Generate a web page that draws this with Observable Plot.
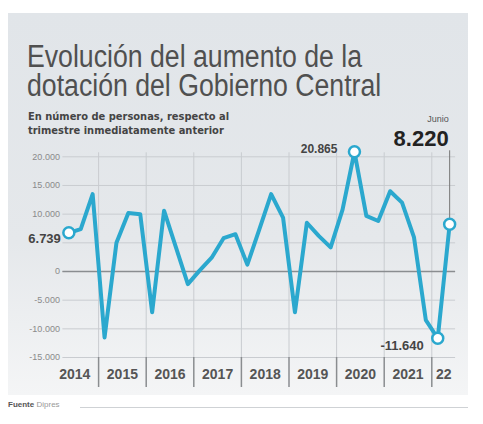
<!DOCTYPE html>
<html><head><meta charset="utf-8">
<script src="https://cdn.jsdelivr.net/npm/d3@7"></script>
<script src="https://cdn.jsdelivr.net/npm/@observablehq/plot@0.6"></script>
<style>
html,body{margin:0;padding:0;background:#fff;}
#root{position:relative;width:483px;height:424px;overflow:hidden;font-family:"Liberation Sans",Arial,sans-serif;}
#card{position:absolute;left:8px;top:13px;width:460px;height:382px;background:linear-gradient(#e1e5e9 0%,#e5e8eb 60%,#f4f5f6 100%);}
#title{position:absolute;left:27px;top:42px;font-family:"Liberation Sans",Arial,sans-serif;font-size:31px;line-height:29px;color:#505050;white-space:nowrap;transform:scaleX(0.86);transform-origin:0 0;}
#subtitle{position:absolute;left:28px;top:110px;font-family:"DejaVu Sans Condensed","Liberation Sans",sans-serif;font-weight:bold;font-size:11px;line-height:14px;color:#444;white-space:nowrap;}
#chart{position:absolute;left:0;top:0;}
#footer{position:absolute;left:8px;top:400px;font-size:8px;color:#999;white-space:nowrap;}
#footer b{color:#555;}
#fline{position:absolute;left:80px;top:407px;width:388px;height:1px;background:#cfd2d5;}
</style></head>
<body><div id="root">
<div id="card"></div>
<div id="title">Evolución del aumento de la<br>dotación del Gobierno Central</div>
<div id="subtitle">En número de personas, respecto al<br>trimestre inmediatamente anterior</div>
<div id="chart"></div>
<div id="footer"><b>Fuente</b> Dipres</div>
<div id="fline"></div>
</div>
<script>
const periods = [
  "2014T2","2014T3","2014T4",
  "2015T1","2015T2","2015T3","2015T4",
  "2016T1","2016T2","2016T3","2016T4",
  "2017T1","2017T2","2017T3","2017T4",
  "2018T1","2018T2","2018T3","2018T4",
  "2019T1","2019T2","2019T3","2019T4",
  "2020T1","2020T2","2020T3","2020T4",
  "2021T1","2021T2","2021T3","2021T4",
  "2022T1","2022T2"
];
const values = [
  6739, 7400, 13500,
  -11500, 5000, 10200, 10000,
  -7100, 10600, 4200, -2200,
  200, 2400, 5800, 6500,
  1200, 7300, 13500, 9400,
  -7100, 8500, 6200, 4200,
  10800, 20865, 9700, 8800,
  14000, 12000, 6000, -8500,
  -11640, 8220
];
const yearLabels = ["2014","2015","2016","2017","2018","2019","2020","2021","22"];
const yearStarts = [2014,2015,2016,2017,2018,2019,2020,2021,2022];
const yTicks = [-15000,-10000,-5000,0,5000,10000,15000,20000];
const yTickLabels = [-15000,-10000,-5000,0,10000,15000,20000];
const highlighted = ["2014T2","2020T2","2022T1","2022T2"];

const toT = p => +p.slice(0,4) + (+p.slice(5) - 0.5) / 4;
const data = periods.map((p, i) => ({p, t: toT(p), v: values[i]}));
const xMin = data[0].t - 0.125, xMax = data[data.length-1].t + 0.125;
const bounds = yearStarts.slice(1);
const labelPos = yearStarts.map(y => y === 2022 ? (y + xMax) / 2 : y + 0.5);
const labelMap = new Map(labelPos.map((d, i) => [d, yearLabels[i]]));
const loc = d3.formatLocale({decimal: ",", thousands: ".", grouping: [3], currency: ["", ""], minus: "-"});
const fmt = loc.format(",");
const hi = data.filter(d => highlighted.includes(d.p));
const first = hi.filter(d => d.p === "2014T2");
const maxP = hi.filter(d => d.p === "2020T2");
const minP = hi.filter(d => d.p === "2022T1");
const last = hi.filter(d => d.p === "2022T2");
const lineColor = "#2ba8ce";

const chart = Plot.plot({
  width: 483, height: 424,
  marginLeft: 62.4, marginRight: 27.9, marginTop: 156.3, marginBottom: 67,
  style: {background: "transparent", fontFamily: "'Liberation Sans', Arial, sans-serif", overflow: "visible"},
  x: {domain: [xMin, xMax]},
  y: {domain: [-15000, 20000]},
  marks: [
    Plot.gridY(yTicks, {stroke: "#c9ccd0", strokeOpacity: 1}),
    Plot.gridX(bounds, {stroke: "#c9ccd0", strokeOpacity: 1, insetTop: -4}),
    Plot.ruleY([0], {stroke: "#8a8d90", strokeWidth: 1.6}),
    Plot.axisY(yTickLabels, {tickSize: 0, tickPadding: 3, tickFormat: fmt, fontSize: 9, fill: "#8a8a8a", label: null}),
    Plot.axisX(bounds, {tickSize: 30, tickFormat: () => "", stroke: "#8a8d90", strokeWidth: 1.5, label: null}),
    Plot.axisX(labelPos, {tickSize: 0, tickPadding: 12, tickFormat: d => labelMap.get(d), fontSize: 14, fill: "#555", fontWeight: "bold", label: null}),
    Plot.ruleX(last, {x: "t", y1: "v", y2: 20000, insetTop: -3, insetBottom: 6, stroke: "#777", strokeWidth: 1}),
    Plot.line(data, {x: "t", y: "v", stroke: lineColor, strokeWidth: 4, strokeLinejoin: "round"}),
    Plot.dot(hi, {x: "t", y: "v", r: 5.5, fill: "#fff", stroke: lineColor, strokeWidth: 2.5}),
    Plot.text(first, {x: "t", y: "v", text: d => fmt(d.v), textAnchor: "end", dx: -8, dy: 6, fontSize: 13, fontWeight: "bold", fill: "#444"}),
    Plot.text(maxP, {x: "t", y: "v", text: d => fmt(d.v), textAnchor: "end", dx: -17, dy: -3, fontSize: 12, fontWeight: "bold", fill: "#444"}),
    Plot.text(minP, {x: "t", y: "v", text: d => fmt(d.v), textAnchor: "end", dx: -14, dy: 8, fontSize: 13, fontWeight: "bold", fill: "#444"}),
    Plot.text(last, {x: "t", frameAnchor: "top", text: d => fmt(d.v), textAnchor: "end", lineAnchor: "bottom", dx: -1, dy: -11, fontSize: 22, fontWeight: "bold", fill: "#222"}),
    Plot.text(last, {x: "t", frameAnchor: "top", text: () => "Junio", textAnchor: "end", lineAnchor: "bottom", dx: -1, dy: -35, fontSize: 9, fill: "#555"})
  ]
});
document.getElementById("chart").appendChild(chart);
</script>
</body></html>
